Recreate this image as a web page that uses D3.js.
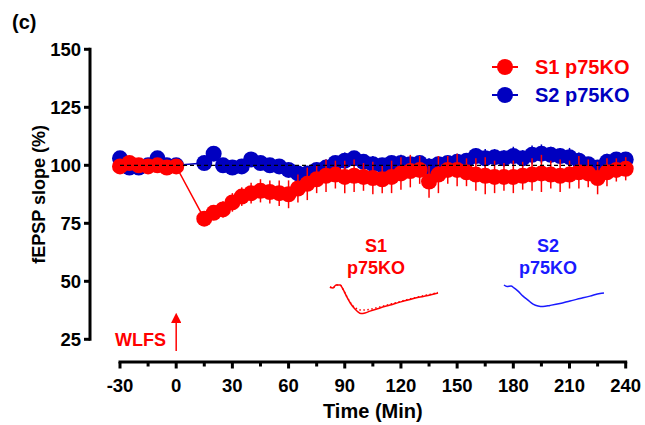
<!DOCTYPE html>
<html>
<head>
<meta charset="utf-8">
<script src="https://cdn.jsdelivr.net/npm/d3@7"></script>
<style>
    body { margin: 0; background: #fff; }
    text { font-family: "Liberation Sans", Arial, sans-serif; font-weight: bold; }
</style>
</head>
<body>
<div id="my_dataviz"></div>
<script>
// time points (min)
const timeBase = [-30, -25, -20, -15, -10, -5, 0];
const timePost = d3.range(15, 241, 5);   // 15 ... 240
const times = timeBase.concat(timePost);

// S1 p75KO (red), fEPSP slope in %
const s1Mean = [99.5, 101, 100, 99.5, 100, 99, 99.5,
    77, 79.5, 81, 84, 86.5, 88, 89, 88.5, 88, 87.5,
    90, 92, 94, 95.5, 96, 95, 95.5, 95, 94.5, 94,
    95, 96.5, 97.5, 98, 93, 96, 98, 98, 97, 96,
    95.5, 95, 95, 95, 95.5, 96, 96.5, 96, 95.5, 96,
    97, 96.5, 94.5, 97, 98, 98.5];
const s1Err = [1.5, 1.5, 1, 1, 1.5, 1, 1,
    3, 3, 3.5, 4, 4, 4.5, 5, 5, 5.5, 6,
    6, 7, 6, 7, 6, 7, 7, 6, 7, 6,
    7, 7, 7, 6, 7, 8, 6, 7, 6, 7,
    8, 7, 6, 7, 6, 7, 8, 6, 7, 6,
    7, 6, 7, 6, 5, 5];

// S2 p75KO (blue)
const s2Mean = [103, 99, 99, 100, 103, 100, 100,
    101, 105, 100, 99, 99.5, 102.5, 101, 100, 99.5, 98,
    96.5, 96.5, 98, 99, 101, 102, 103, 101.5, 100.5, 100,
    101, 101, 100.5, 101, 99.5, 100.5, 101, 101.5, 102, 104,
    103, 103.5, 103, 104, 103, 104.5, 105, 104.5, 104, 103.5,
    102, 100.5, 99, 101.5, 102.5, 102.5];
const s2Err = [2, 2, 2, 2, 2, 2, 2,
    2.5, 3, 2.5, 2.5, 3, 3, 2.5, 3, 2.5, 3,
    3, 3, 3, 3.5, 3, 3.5, 3, 3, 3.5, 3,
    3, 3.5, 3, 3, 3.5, 3, 3, 3.5, 3, 3.5,
    4, 3.5, 3.5, 4, 3.5, 4, 4, 3.5, 3.5, 4,
    3.5, 3, 3, 3.5, 3, 3];

// tick values
const yTicks = [25, 50, 75, 100, 125, 150];
const xTicks = [-30, 0, 30, 60, 90, 120, 150, 180, 210, 240];
const xMinor = d3.range(-15, 240, 30);

// example fEPSP traces: [ms, mV]
const traceS1After = [[0, 0], [0.28, -0.04], [0.56, 0.08], [0.93, 0.08], [1.2, -0.08], [1.57, -0.38],
    [1.94, -0.64], [2.31, -0.83], [2.59, -0.94], [2.87, -1.0], [3.24, -0.98], [3.7, -0.91],
    [4.63, -0.79], [5.56, -0.68], [6.48, -0.57], [7.41, -0.47], [8.33, -0.38], [9.26, -0.3], [10, -0.23]];
const traceS1Before = [[0, 0], [0.28, -0.04], [0.56, 0.08], [0.93, 0.08], [1.2, -0.08], [1.57, -0.37],
    [1.94, -0.62], [2.31, -0.78], [2.59, -0.84], [2.96, -0.87], [3.7, -0.84], [4.63, -0.75],
    [5.56, -0.65], [6.48, -0.55], [7.41, -0.45], [8.33, -0.36], [9.26, -0.28], [10, -0.21]];
const traceS2 = [[0, 0], [0.28, -0.06], [0.65, -0.04], [0.93, -0.11], [1.3, -0.23], [1.76, -0.42],
    [2.22, -0.57], [2.69, -0.72], [3.15, -0.79], [3.61, -0.81], [4.26, -0.77], [5.19, -0.7],
    [6.11, -0.6], [7.04, -0.51], [7.96, -0.42], [8.89, -0.32], [9.26, -0.3]];

const red = "#ff0000", blue = "#0000c0", blueBright = "#1a1aff";

const W = 645, H = 425;
const svg = d3.select("#my_dataviz")
    .append("svg")
    .attr("width", W)
    .attr("height", H);

const xx = d3.scaleLinear().domain([-30, 240]).range([120, 625.7]);
const yy = d3.scaleLinear().domain([25, 150]).range([339.3, 49.3]);

// panel letter
svg.append("text").attr("x", 12).attr("y", 29).text("(c)").style("font-size", "20px");

// y axis
const yAxis = svg.append("g").attr("transform", "translate(90,0)");
yAxis.append("line").attr("y1", yy(25)).attr("y2", yy(150))
    .attr("stroke", "black").attr("stroke-width", 3).attr("stroke-linecap", "square");
yAxis.selectAll(".yt").data(yTicks).join("line")
    .attr("x1", -6).attr("x2", 0).attr("y1", d => yy(d)).attr("y2", d => yy(d))
    .attr("stroke", "black").attr("stroke-width", 3);
yAxis.selectAll(".yl").data(yTicks).join("text")
    .attr("x", -9).attr("y", d => yy(d)).attr("dy", "0.35em")
    .attr("text-anchor", "end").style("font-size", "18.5px").text(d => d);

svg.append("text").attr("transform", `translate(45,${yy(87.5)}) rotate(-90)`)
    .attr("text-anchor", "middle").style("font-size", "18px").text("fEPSP slope (%)");

// x axis
const xAxisY = 362;
const xAxis = svg.append("g").attr("transform", `translate(0,${xAxisY})`);
xAxis.append("line").attr("x1", xx(-30)).attr("x2", xx(240))
    .attr("stroke", "black").attr("stroke-width", 3).attr("stroke-linecap", "square");
xAxis.selectAll(".xt").data(xTicks).join("line")
    .attr("x1", d => xx(d)).attr("x2", d => xx(d)).attr("y1", 0).attr("y2", 6.5)
    .attr("stroke", "black").attr("stroke-width", 3);
xAxis.selectAll(".xm").data(xMinor).join("line")
    .attr("x1", d => xx(d)).attr("x2", d => xx(d)).attr("y1", 0).attr("y2", 4.5)
    .attr("stroke", "black").attr("stroke-width", 3);
xAxis.selectAll(".xl").data(xTicks).join("text")
    .attr("x", d => xx(d)).attr("y", 30)
    .attr("text-anchor", "middle").style("font-size", "18.5px").text(d => d);

svg.append("text").attr("x", xx(105)).attr("y", 418)
    .attr("text-anchor", "middle").style("font-size", "20px").text("Time (Min)");

// data series: blue first, red on top
function drawSeries(mean, err, color) {
    const pts = times.map((t, i) => [t, mean[i], err[i]]);
    svg.append("path")
        .datum(pts)
        .attr("fill", "none")
        .attr("stroke", color)
        .attr("stroke-width", 1.5)
        .attr("d", d3.line().x(d => xx(d[0])).y(d => yy(d[1])));
    svg.append("g").selectAll("line").data(pts).join("line")
        .attr("x1", d => xx(d[0])).attr("x2", d => xx(d[0]))
        .attr("y1", d => yy(d[1] - d[2])).attr("y2", d => yy(d[1] + d[2]))
        .attr("stroke", color).attr("stroke-width", 1.5);
    svg.append("g").selectAll("circle").data(pts).join("circle")
        .attr("cx", d => xx(d[0])).attr("cy", d => yy(d[1]))
        .attr("r", 8).attr("fill", color);
}
drawSeries(s2Mean, s2Err, blue);
drawSeries(s1Mean, s1Err, red);

// 100 % baseline
svg.append("line")
    .attr("x1", xx(-30)).attr("x2", xx(240))
    .attr("y1", yy(100)).attr("y2", yy(100))
    .attr("stroke", "black").attr("stroke-width", 1.3)
    .style("stroke-dasharray", ("4, 3"));

// legend
const legend = [["S1 p75KO", red, 67], ["S2 p75KO", blue, 95]];
legend.forEach(function (l) {
    svg.append("line").attr("x1", 492).attr("x2", 518).attr("y1", l[2]).attr("y2", l[2])
        .attr("stroke", l[1]).attr("stroke-width", 2);
    svg.append("circle").attr("cx", 505).attr("cy", l[2]).attr("r", 8).attr("fill", l[1]);
    svg.append("text").attr("x", 535).attr("y", l[2]).attr("dy", "0.36em")
        .style("font-size", "20px").style("fill", l[1]).text(l[0]);
});

// WLFS arrow
svg.append("defs").append("marker")
    .attr("id", "arrow").attr("viewBox", "0 0 10 10").attr("refX", 5).attr("refY", 5)
    .attr("markerWidth", 7).attr("markerHeight", 7).attr("orient", "auto")
    .append("path").attr("d", "M0,0L10,5L0,10Z").attr("fill", red);
svg.append("line")
    .attr("x1", xx(0)).attr("x2", xx(0)).attr("y1", 351).attr("y2", 318)
    .attr("stroke", red).attr("stroke-width", 1.5).attr("marker-end", "url(#arrow)");
svg.append("text").attr("x", 115).attr("y", 346).style("font-size", "18px")
    .style("fill", red).text("WLFS");

// inset traces
const txS1 = d3.scaleLinear().domain([0, 10]).range([330, 438]);
const tyS1 = d3.scaleLinear().domain([-1, 0]).range([313.5, 287]);
const txS2 = d3.scaleLinear().domain([0, 10]).range([504, 612]);
const tyS2 = d3.scaleLinear().domain([-1, 0]).range([311.5, 285]);

svg.append("path").datum(traceS1Before)
    .attr("fill", "none").attr("stroke", red).attr("stroke-width", 1.5)
    .style("stroke-dasharray", ("1.5, 2.5"))
    .attr("d", d3.line().curve(d3.curveMonotoneX).x(d => txS1(d[0])).y(d => tyS1(d[1])));
svg.append("path").datum(traceS1After)
    .attr("fill", "none").attr("stroke", red).attr("stroke-width", 1.5)
    .attr("d", d3.line().curve(d3.curveMonotoneX).x(d => txS1(d[0])).y(d => tyS1(d[1])));
svg.append("path").datum(traceS2)
    .attr("fill", "none").attr("stroke", blueBright).attr("stroke-width", 1.5)
    .attr("d", d3.line().curve(d3.curveMonotoneX).x(d => txS2(d[0])).y(d => tyS2(d[1])));

svg.append("text").attr("x", 376).attr("y", 252).attr("text-anchor", "middle")
    .style("font-size", "18px").style("fill", red).text("S1");
svg.append("text").attr("x", 376).attr("y", 274).attr("text-anchor", "middle")
    .style("font-size", "18px").style("fill", red).text("p75KO");
svg.append("text").attr("x", 548).attr("y", 252).attr("text-anchor", "middle")
    .style("font-size", "18px").style("fill", blueBright).text("S2");
svg.append("text").attr("x", 548).attr("y", 274).attr("text-anchor", "middle")
    .style("font-size", "18px").style("fill", blueBright).text("p75KO");
</script>
</body>
</html>
